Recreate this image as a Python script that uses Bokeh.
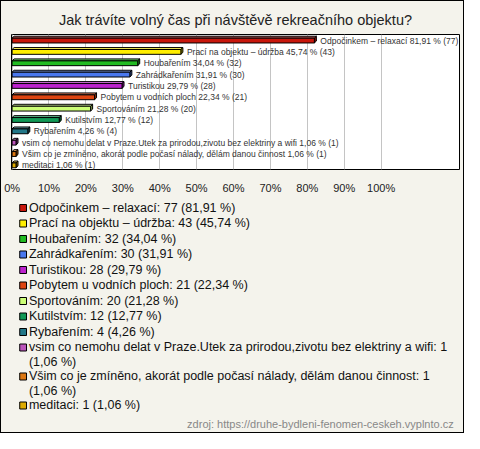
from bokeh.plotting import figure
from bokeh.models import Range1d, FixedTicker
from bokeh.layouts import column
from bokeh.embed import file_html
from bokeh.resources import INLINE
from bokeh.core.properties import value

title_text = "Jak trávíte volný čas při návštěvě rekreačního objektu?"
categories = [
    "Odpočinkem – relaxací",
    "Prací na objektu – údržba",
    "Houbařením",
    "Zahrádkařením",
    "Turistikou",
    "Pobytem u vodních ploch",
    "Sportováním",
    "Kutilstvím",
    "Rybařením",
    "vsim co nemohu delat v Praze.Utek za prirodou,zivotu bez elektriny a wifi",
    "Všim co je zmíněno, akorát podle počasí nálady, dělám danou činnost",
    "meditaci",
]
counts = [77, 43, 32, 30, 28, 21, 20, 12, 4, 1, 1, 1]
percents = [81.91, 45.74, 34.04, 31.91, 29.79, 22.34, 21.28, 12.77, 4.26, 1.06, 1.06, 1.06]
colors = ["#c8170c", "#ffee00", "#22bb22", "#4a78ee", "#bb22cc", "#dd4411",
          "#ccff77", "#119955", "#227788", "#bb55bb", "#dd7711", "#ddaa00"]
tick_values = [0, 10, 20, 30, 40, 50, 60, 70, 80, 90, 100]
tick_labels = ["0%", "10%", "20%", "30%", "40%", "50%", "60%", "70%", "80%", "90%", "100%"]
source_note = "zdroj: https://druhe-bydleni-fenomen-ceskeh.vyplnto.cz"

BG = "#f4f3ec"
FONT = "Liberation Sans"


def shade(hexcol, f):
    r, g, b = int(hexcol[1:3], 16), int(hexcol[3:5], 16), int(hexcol[5:7], 16)
    if f >= 0:
        r, g, b = [int(c + (255 - c) * f) for c in (r, g, b)]
    else:
        r, g, b = [int(c * (1 + f)) for c in (r, g, b)]
    return "#%02x%02x%02x" % (r, g, b)


def fmt(v):
    return f"{v:.2f}".replace(".", ",")


W = 462
H1 = 195
H2 = 236
ML, MR = 10, 4
MT, MB = 33, 22
X0, X1 = -0.16, 121.24
n = len(categories)
Y_START, Y_END = n - 1 + 0.45, -0.45

p1 = figure(width=W, height=H1, output_backend="svg", toolbar_location=None,
            x_range=Range1d(X0, X1), y_range=Range1d(Y_START, Y_END),
            y_axis_location=None,
            min_border_left=ML, min_border_right=MR, min_border_top=MT, min_border_bottom=MB,
            background_fill_color="white", border_fill_color=BG,
            outline_line_color="black", outline_line_width=1)
p1.title.text = title_text
p1.title.align = "center"
p1.title.text_font = FONT
p1.title.text_font_size = "14.5px"
p1.title.text_font_style = "normal"
p1.title.text_color = "#222222"
p1.title.standoff = 14

px_x = (W - ML - MR) / (X1 - X0)
px_y = (H1 - MT - MB) / (Y_START - Y_END)
dx = 2 / px_x
dy = 2 / px_y

rows = list(range(n))
front_top = [r - 1.5 / px_y for r in rows]
front_bot = [r + 3.5 / px_y for r in rows]

p1.xgrid.grid_line_color = "#c4c4c4"
p1.ygrid.grid_line_color = None
p1.xgrid.ticker = FixedTicker(ticks=tick_values)
p1.xaxis.ticker = FixedTicker(ticks=tick_values)
p1.xaxis.major_label_overrides = {v: l for v, l in zip(tick_values, tick_labels)}
p1.xaxis.axis_line_color = None
p1.xaxis.major_tick_line_color = None
p1.xaxis.minor_tick_line_color = None
p1.xaxis.major_label_standoff = 6
p1.xaxis.major_label_text_font = FONT
p1.xaxis.major_label_text_font_size = "11px"
p1.xaxis.major_label_text_color = "#222222"

# top faces
top_xs = [[0, v, v + dx, dx] for v in percents]
top_ys = [[t, t, t - dy, t - dy] for t in front_top]
p1.patches(xs=top_xs, ys=top_ys, fill_color=[shade(c, 0.35) for c in colors],
           line_color="black", line_width=1)
# right faces
side_xs = [[v, v + dx, v + dx, v] for v in percents]
side_ys = [[t, t - dy, b - dy, b] for t, b in zip(front_top, front_bot)]
p1.patches(xs=side_xs, ys=side_ys, fill_color=[shade(c, -0.35) for c in colors],
           line_color="black", line_width=1)
# front faces
p1.quad(left=[0] * n, right=percents, top=front_top, bottom=front_bot,
        fill_color=colors, line_color="black", line_width=1)

bar_labels = [f"{c} {fmt(p)} % ({k})" for c, p, k in zip(categories, percents, counts)]
p1.text(x=[v + dx for v in percents], y=[r + 1 / px_y for r in rows], text=bar_labels,
        x_offset=4, text_align="left", text_baseline="middle",
        text_font=value(FONT), text_font_size="8.5px", text_color="#333333")

# legend panel
p2 = figure(width=W, height=H2, output_backend="svg", toolbar_location=None,
            x_range=Range1d(0, W), y_range=Range1d(H2, 0),
            x_axis_location=None, y_axis_location=None,
            min_border=0, min_border_left=0, min_border_right=0,
            min_border_top=0, min_border_bottom=0,
            background_fill_color=BG, border_fill_color=BG, outline_line_color=None)
p2.grid.visible = False

leg_labels = []
for c, k, p in zip(categories, counts, percents):
    lab = f"{c}: {k} ({fmt(p)} %)"
    if len(lab) > 60:
        i = lab.rfind(" (")
        lab = lab[:i] + "\n " + lab[i + 1:]
    leg_labels.append(lab)

centers = []
yc = 11.5
for lab in leg_labels:
    centers.append(yc)
    yc += 15.5 + 13.5 * lab.count("\n")

p2.rect(x=[12] * n, y=centers, width=7, height=7, fill_color=colors,
        line_color="black", line_width=1)
p2.text(x=[18] * n, y=[c - 7.2 for c in centers], text=leg_labels,
        text_align="left", text_baseline="top", text_line_height=1.08,
        text_font=value(FONT), text_font_size="12.5px", text_color="#111111")
p2.text(x=[W - 6], y=[227], text=[source_note], text_align="right", text_baseline="middle",
        text_font=value(FONT), text_font_size="11px", text_color="#888888")

layout = column(p1, p2, spacing=0,
                styles={"border": "1px solid black", "background-color": BG})

open("out.html", "w").write(file_html(layout, INLINE))
